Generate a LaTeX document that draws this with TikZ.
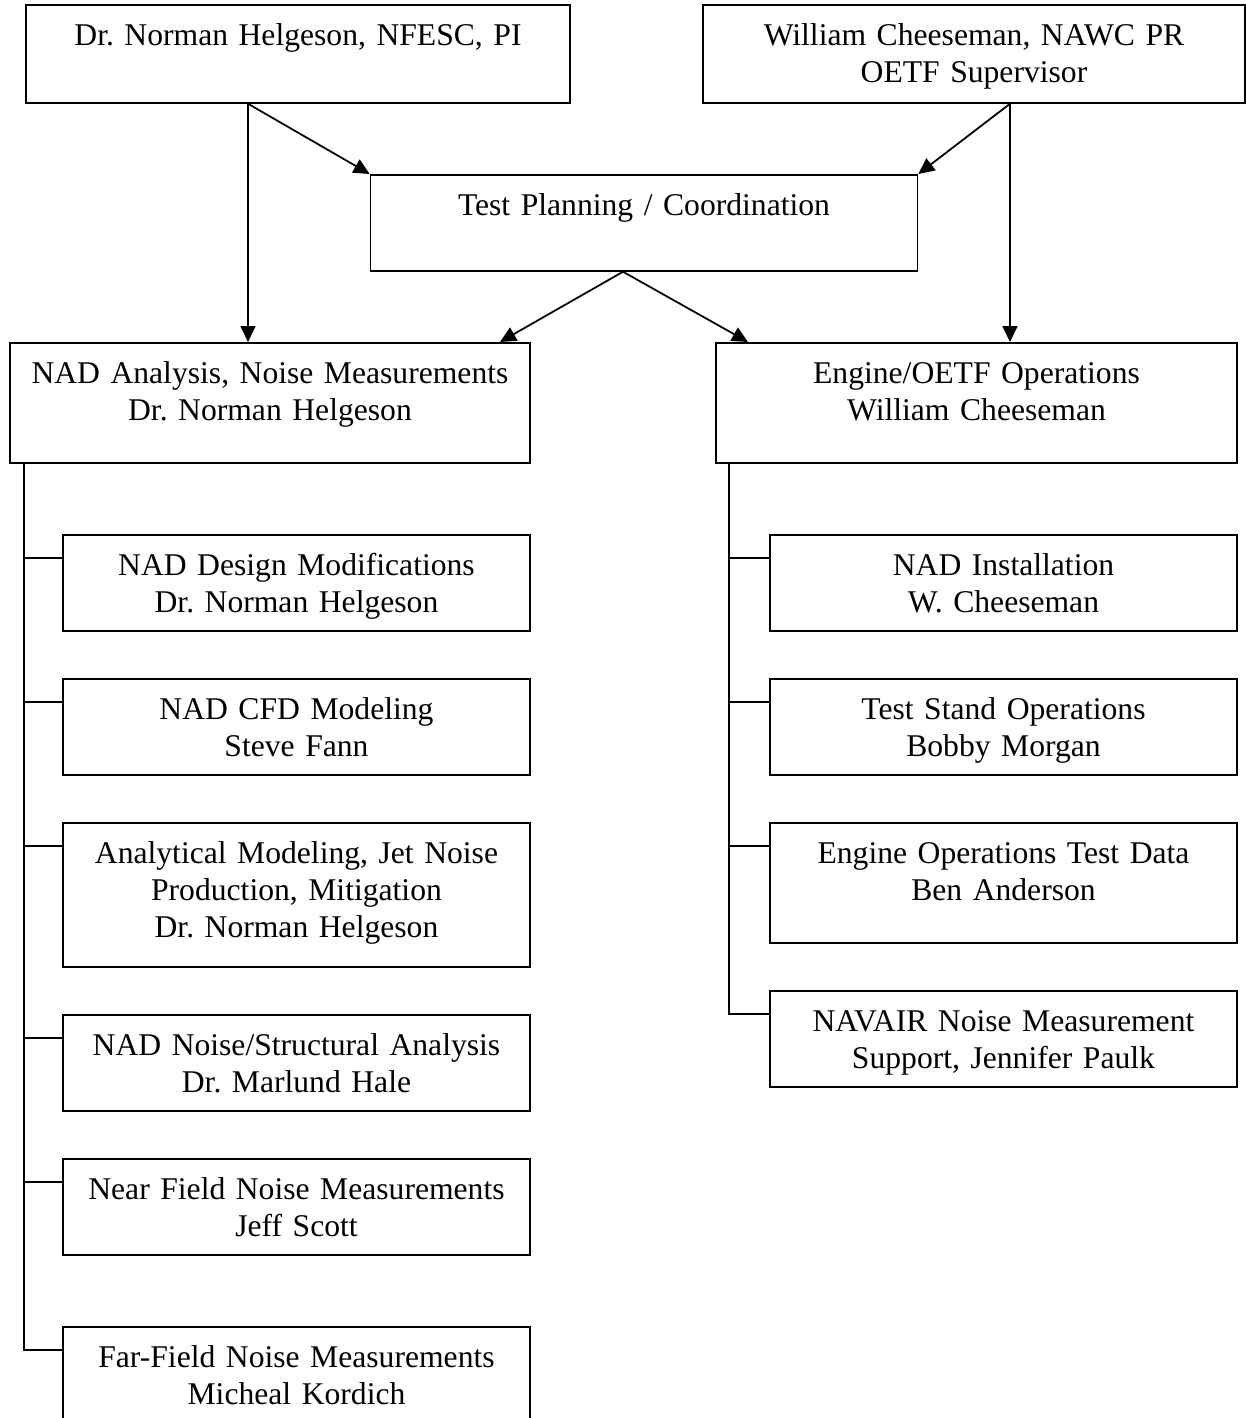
\documentclass[tikz,border=0pt]{standalone}
\usepackage{fontspec}
\setmainfont{Liberation Serif}
\usetikzlibrary{arrows.meta}
\frenchspacing

\tikzset{
    box/.style={draw, line width=1pt, inner sep=0pt, align=center, anchor=north,
        text height=0.82cm, text depth=1.10cm, font=\fontsize{18}{21}\selectfont},
    lkid/.style={box, text width=9.34cm},
    rkid/.style={box, text width=9.34cm},
}

\begin{document}
\begin{tikzpicture}[x=0.02cm, y=-0.02cm, line width=1pt, >={Triangle[length=0.32cm, width=0.3cm]}]
    \useasboundingbox (0,0) rectangle (1246,1418);

    % Top row
    \node[box, text width=10.88cm, text depth=1.14cm] (pi) at (298,4) {Dr. Norman Helgeson, NFESC, PI};
    \node[box, text width=10.84cm, text depth=1.14cm] (oetf) at (974,4) {William Cheeseman, NAWC PR\\OETF Supervisor};
    \node[box, text width=10.94cm] (plan) at (644,174) {Test Planning / Coordination};

    % Second row
    \node[box, text width=10.4cm, text depth=1.58cm] (nad) at (270,342) {NAD Analysis, Noise Measurements\\Dr. Norman Helgeson};
    \node[box, text width=10.42cm, text depth=1.58cm] (eng) at (976.5,342) {Engine/OETF Operations\\William Cheeseman};

    % Left branch
    \node[lkid] (l1) at (296.5,534) {NAD Design Modifications\\Dr. Norman Helgeson};
    \node[lkid] (l2) at (296.5,678) {NAD CFD Modeling\\Steve Fann};
    \node[lkid, text depth=2.06cm] (l3) at (296.5,822) {Analytical Modeling, Jet Noise\\Production, Mitigation\\Dr. Norman Helgeson};
    \node[lkid] (l4) at (296.5,1014) {NAD Noise/Structural Analysis\\Dr. Marlund Hale};
    \node[lkid] (l5) at (296.5,1158) {Near Field Noise Measurements\\Jeff Scott};
    \node[lkid] (l6) at (296.5,1326) {Far-Field Noise Measurements\\Micheal Kordich};

    % Right branch
    \node[rkid] (r1) at (1003.5,534) {NAD Installation\\W. Cheeseman};
    \node[rkid] (r2) at (1003.5,678) {Test Stand Operations\\Bobby Morgan};
    \node[rkid, text depth=1.58cm] (r3) at (1003.5,822) {Engine Operations Test Data\\Ben Anderson};
    \node[rkid] (r4) at (1003.5,990) {NAVAIR Noise Measurement\\Support, Jennifer Paulk};

    % Arrows from the top
    \coordinate (pifork) at ([xshift=-1cm]pi.south);
    \coordinate (oetffork) at ([xshift=0.72cm]oetf.south);
    \coordinate (planfork) at ([xshift=-0.42cm]plan.south);
    \draw[->] (pifork) -- (pifork |- nad.north);
    \draw[->] (pifork) -- (plan.north west);
    \draw[->] (oetffork) -- (oetffork |- eng.north);
    \draw[->] (oetffork) -- (plan.north east);
    \draw[->] (planfork) -- ([xshift=4.6cm]nad.north);
    \draw[->] (planfork) -- ([xshift=-4.57cm]eng.north);

    % Spines
    \coordinate (lspine) at ([xshift=0.3cm]nad.south west);
    \coordinate (rspine) at ([xshift=0.28cm]eng.south west);
    \foreach \n in {l1,l2,l3,l4,l5,l6,r1,r2,r3,r4}
        \coordinate (\n s) at ([yshift=-0.48cm]\n.north west);
    \draw (lspine) |- (l6s);
    \foreach \n in {l1,l2,l3,l4,l5}
        \draw (lspine |- \n s) -- (\n s);
    \draw (rspine) |- (r4s);
    \foreach \n in {r1,r2,r3}
        \draw (rspine |- \n s) -- (\n s);
\end{tikzpicture}
\end{document}
